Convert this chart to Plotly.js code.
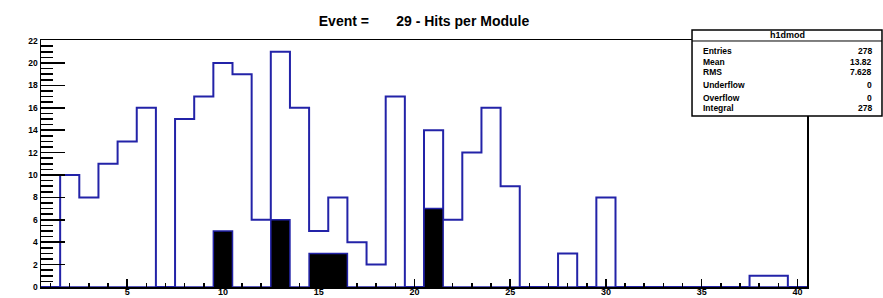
<!DOCTYPE html>
<html>
<head>
<meta charset="utf-8">
<script src="https://cdn.plot.ly/plotly-3.0.1.min.js"></script>
<style>html,body{margin:0;padding:0;background:#fff;}#plot{width:883px;height:298px;}</style>
</head>
<body>
<div id="plot"></div>
<script>
// Module numbers (bin centres) 1..40
var modules = [1,2,3,4,5,6,7,8,9,10,11,12,13,14,15,16,17,18,19,20,21,22,23,24,25,26,27,28,29,30,31,32,33,34,35,36,37,38,39,40];
// Hits per module (blue outline histogram)
var hits = [0,10,8,11,13,16,0,15,17,20,19,6,21,16,5,8,4,2,17,0,14,6,12,16,9,0,0,3,0,8,0,0,0,0,0,0,0,1,1,0];
// Second (black filled) histogram
var hitsFilled = [0,0,0,0,0,0,0,0,0,5,0,0,6,0,3,3,0,0,0,0,7,0,0,0,0,0,0,0,0,0,0,0,0,0,0,0,0,0,0,0];
var yTickStep = 2, yMinorStep = 0.5;
var xTickStep = 5, xMinorStep = 1;
var statLabels = ["Entries","Mean","RMS","Underflow","Overflow","Integral"];
var statValues = ["278","13.82","7.628","0","0","278"];
var statTitle = "h1dmod";
var titleText = "Event =&nbsp;&nbsp;&nbsp;&nbsp;&nbsp;&nbsp; 29 - Hits per Module";

function edges(c){ var e=c.map(function(v){return v-0.5;}); e.push(c[c.length-1]+0.5); return e; }
function stepY(v){ var y=v.slice(); y.push(v[v.length-1]); return y; }

var blue = "#2323a8";
var font = "Liberation Sans, Arial, sans-serif";
var xRange = [0.5, 40.5], yRange = [0, 22.05];

var traces = [
  // invisible carrier so the minor-tick overlay axes are drawn
  {type:"scatter", mode:"lines", x:edges(modules), y:stepY(hits), xaxis:"x2", yaxis:"y2", line:{width:0, color:"rgba(0,0,0,0)"}, hoverinfo:"skip"},
  {type:"scatter", mode:"lines", x:edges(modules), y:stepY(hits), line:{shape:"hv", color:blue, width:2}, hoverinfo:"skip"},
  {type:"scatter", mode:"lines", x:edges(modules), y:stepY(hitsFilled), fill:"tozeroy", fillcolor:"#000000", line:{shape:"hv", color:blue, width:1.5}, hoverinfo:"skip"}
];

var bx0=0.8499, bx1=1.0979, by0=0.6923, by1=1.0405, bsep=0.996;
var shapes = [
  {type:"rect", xref:"paper", yref:"paper", x0:bx0, x1:bx1, y0:by0, y1:by1, fillcolor:"#ffffff", line:{color:"#000", width:1.5}, layer:"above"},
  {type:"line", xref:"paper", yref:"paper", x0:bx0, x1:bx1, y0:bsep, y1:bsep, line:{color:"#000", width:1}, layer:"above"}
];
var annotations = [
  {xref:"paper", yref:"paper", x:(bx0+bx1)/2, y:(by1+bsep)/2, text:"<b>"+statTitle+"</b>", showarrow:false, xanchor:"center", yanchor:"middle", font:{family:font, size:9, color:"#000"}}
];
var rowY = [50.5, 61.5, 71.5, 85.3, 98, 108];
for (var i=0;i<statLabels.length;i++){
  var py = (287-rowY[i])/247;
  annotations.push({xref:"paper", yref:"paper", x:(701-41)/766, y:py, text:"<b>"+statLabels[i]+"</b>", showarrow:false, xanchor:"left", yanchor:"middle", font:{family:font, size:8.5, color:"#000"}});
  annotations.push({xref:"paper", yref:"paper", x:(874-41)/766, y:py, text:"<b>"+statValues[i]+"</b>", showarrow:false, xanchor:"right", yanchor:"middle", font:{family:font, size:8.5, color:"#000"}});
}

var layout = {
  width:883, height:298,
  margin:{l:41, r:76, t:40, b:11},
  paper_bgcolor:"#fff", plot_bgcolor:"#fff",
  showlegend:false,
  title:{text:"<b>"+titleText+"</b>", x:(424/883), xanchor:"center", y:0.93, yanchor:"middle", font:{family:font, size:14, color:"#000"}},
  xaxis:{range:xRange, tickmode:"linear", tick0:0, dtick:xTickStep, ticks:"inside", ticklen:8, tickwidth:1.5, tickcolor:"#000",
         showgrid:false, zeroline:false, showline:true, linecolor:"#000", linewidth:1.5, mirror:true,
         tickfont:{family:font, size:9, color:"#000", weight:"bold"}, ticklabelstandoff:-4},
  yaxis:{range:yRange, tickmode:"linear", tick0:0, dtick:yTickStep, ticks:"inside", ticklen:24, tickwidth:1.5, tickcolor:"#000",
         showgrid:false, zeroline:false, showline:true, linecolor:"#000", linewidth:1.5, mirror:true,
         tickfont:{family:font, size:8.5, color:"#000", weight:"bold"}},
  xaxis2:{overlaying:"x", side:"bottom", anchor:"y", range:xRange, tickmode:"linear", tick0:0, dtick:xMinorStep, ticks:"inside", ticklen:4, tickwidth:1.5, tickcolor:"#000",
          showticklabels:false, showgrid:false, zeroline:false, showline:false},
  yaxis2:{overlaying:"y", side:"left", anchor:"x", range:yRange, tickmode:"linear", tick0:0, dtick:yMinorStep, ticks:"inside", ticklen:12, tickwidth:1.5, tickcolor:"#000",
          showticklabels:false, showgrid:false, zeroline:false, showline:false},
  shapes:shapes,
  annotations:annotations
};
Plotly.newPlot("plot", traces, layout, {staticPlot:true, displayModeBar:false});
</script>
</body>
</html>
